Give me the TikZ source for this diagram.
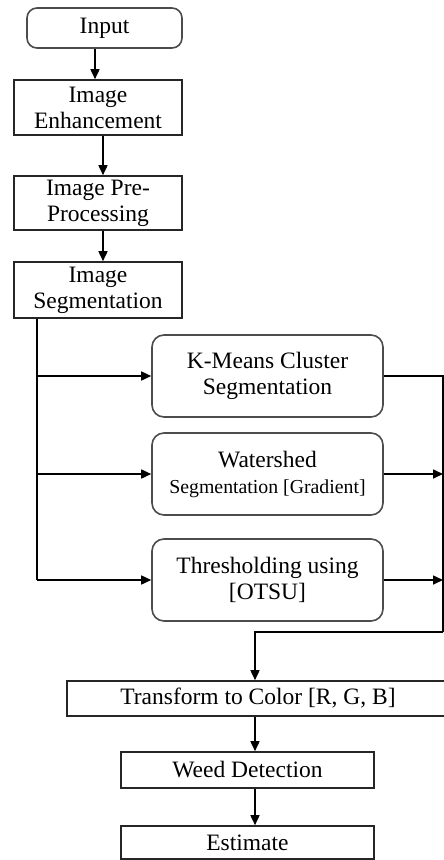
\documentclass[tikz,border=0pt]{standalone}
\usepackage{fontspec}
\setmainfont{Liberation Serif}
\usetikzlibrary{arrows.meta}
\begin{document}
\begin{tikzpicture}[x=1pt,y=-1pt,
  box/.style={draw=black!85, line width=1.6pt, inner sep=0pt, align=center, font=\fontsize{23.5}{26}\selectfont},
  rbox/.style={box, draw=black!70, rounded corners=12pt},
  arr/.style={-{Triangle[length=10pt,width=9pt]}, line width=1.6pt},
  ln/.style={line width=1.6pt}]
\useasboundingbox (0,0) rectangle (444,860);
\clip (0,0) rectangle (444,860);
\fill[white] (0,0) rectangle (444,860);
\node[rbox, rounded corners=10pt, minimum width=155pt, minimum height=40pt] (input) at (104.5,28) {Input};
\node[box, minimum width=168pt, minimum height=55pt] (enh) at (98,107.5) {Image\\Enhancement};
\node[box, minimum width=168pt, minimum height=54pt] (pre) at (98,203) {Image Pre-\\Processing};
\node[box, minimum width=168pt, minimum height=56pt] (seg) at (98,290) {Image\\Segmentation};
\node[rbox, minimum width=231pt, minimum height=82pt] (km) at (267.5,376) {K-Means Cluster\\Segmentation};
\node[rbox, minimum width=231pt, minimum height=82pt] (ws) at (267.5,474) {Watershed\\{\fontsize{19.8}{23}\selectfont Segmentation [Gradient]}};
\node[rbox, minimum width=231pt, minimum height=82pt] (th) at (267.5,580) {Thresholding using\\{}[OTSU]};
\node[box, minimum width=382pt, minimum height=35pt] (tr) at (258,698.5) {Transform to Color [R, G, B]};
\node[box, minimum width=253pt, minimum height=36pt] (wd) at (247.5,770) {Weed Detection};
\node[box, minimum width=253pt, minimum height=33pt] (es) at (247.5,842.5) {Estimate};
\coordinate (ax) at (95,0);
\coordinate (bx) at (103,0);
\coordinate (sx) at (37,0);
\coordinate (rx) at (443,0);
\coordinate (rb) at (443,632);
\coordinate (cx) at (255,0);
\draw[arr] (input.south -| ax) -- (enh.north -| ax);
\draw[arr] (enh.south -| bx) -- (pre.north -| bx);
\draw[arr] (pre.south -| bx) -- (seg.north -| bx);
\draw[ln] (seg.south -| sx) -- (sx |- th.west);
\draw[arr] (sx |- km.west) -- (km.west);
\draw[arr] (sx |- ws.west) -- (ws.west);
\draw[arr] (sx |- th.west) -- (th.west);
\draw[ln] (km.east) -| (rb);
\draw[arr] (ws.east) -- (ws.east -| rx);
\draw[arr] (th.east) -- (th.east -| rx);
\draw[arr] (rb) -- (rb -| cx) -- (tr.north -| cx);
\draw[arr] (tr.south -| cx) -- (wd.north -| cx);
\draw[arr] (wd.south -| cx) -- (es.north -| cx);
\end{tikzpicture}
\end{document}
